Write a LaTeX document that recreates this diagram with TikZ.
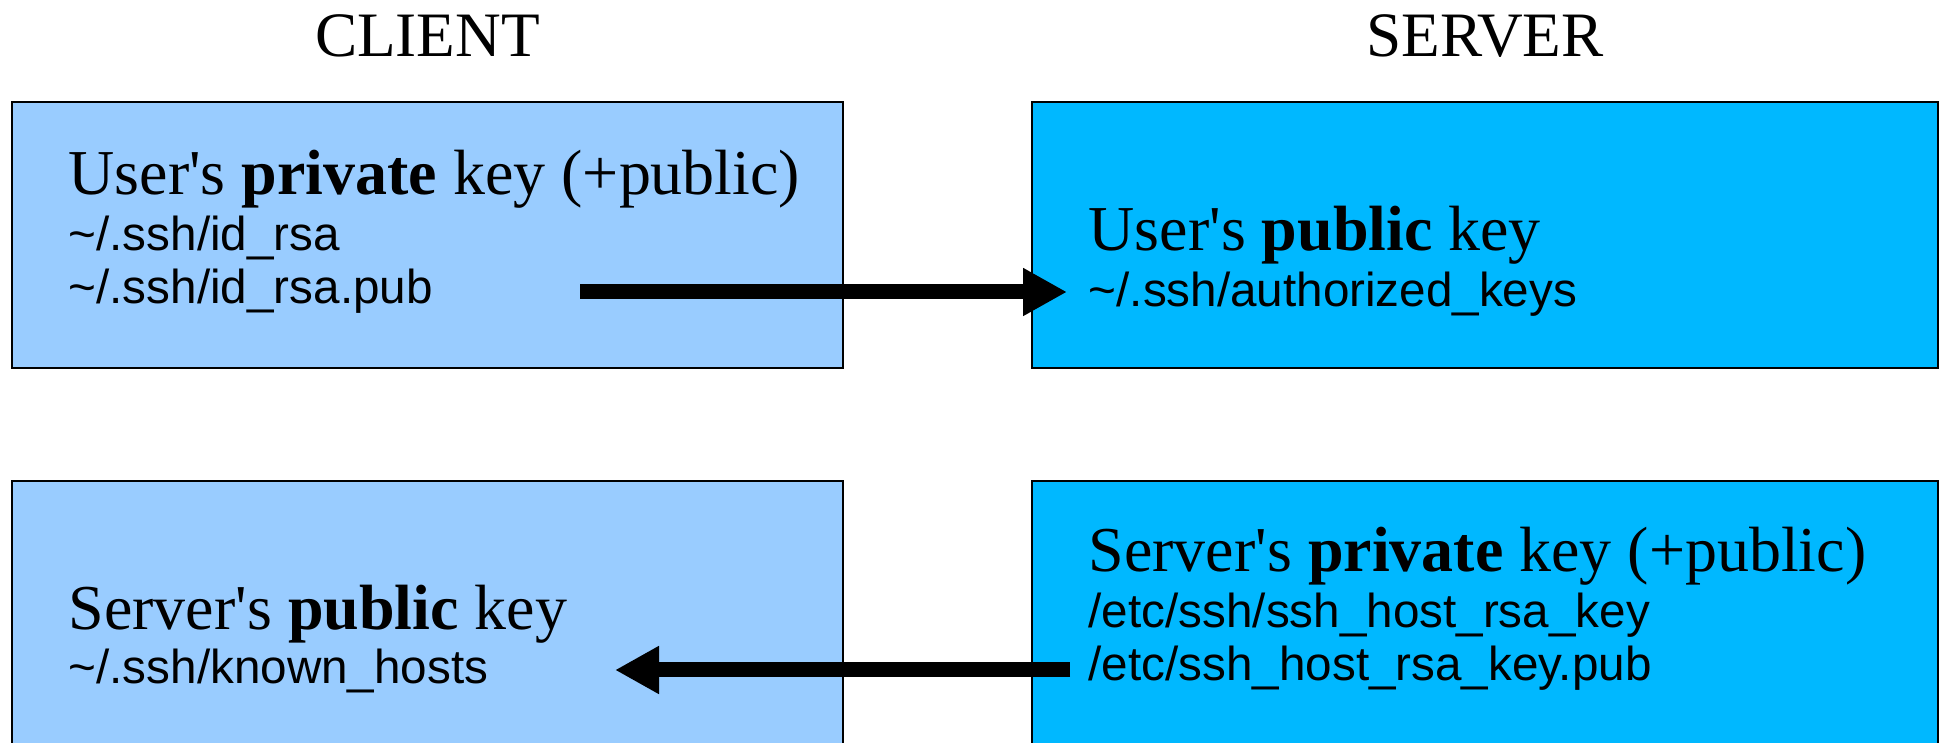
\documentclass[tikz,border=0pt]{standalone}
\usepackage{fontspec}
\setmainfont{Liberation Serif}
\setsansfont{Liberation Sans}
\usetikzlibrary{positioning,arrows.meta}
\definecolor{clientblue}{HTML}{99CCFF}
\definecolor{serverblue}{HTML}{00B8FF}

\begin{document}
\begin{tikzpicture}[
    box/.style = {draw, line width=0.6pt, inner sep=0pt, minimum height=2.66cm},
    clientbox/.style = {box, fill=clientblue, minimum width=8.31cm},
    serverbox/.style = {box, fill=serverblue, minimum width=9.06cm},
    title/.style = {anchor=base, inner sep=0pt, font=\fontsize{18pt}{21pt}\selectfont},
    keyname/.style = {anchor=base west, inner sep=0pt, font=\fontsize{18.2pt}{21pt}\selectfont},
    keyfile/.style = {anchor=base west, inner sep=0pt, font=\sffamily\fontsize{13.55pt}{16pt}\selectfont},
    push/.style = {line width=0.15cm, -{Triangle[length=0.44cm, width=0.45cm]}}]
    \clip (0,0) rectangle (19.46,7.42);
    % titles
    \node[title] (client) at (4.275,6.85) {CLIENT};
    \node[title] (server) at (14.85,6.85) {SERVER};
    % boxes
    \node[clientbox] (cuser) at (4.275,5.07) {};
    \node[serverbox] (suser) at (14.85,5.07) {};
    \node[clientbox, minimum height=3.11cm] (chost) at (4.275,1.055) {};
    \node[serverbox, minimum height=3.11cm] (shost) at (14.85,1.055) {};
    % user key
    \node[keyname] (userpriv) at (0.68,5.47) {User\textquotesingle s \textbf{private} key (+public)};
    \node[keyfile] (idrsa) at ([yshift=-0.56cm]userpriv.base west) {\textasciitilde/.ssh/id\_rsa};
    \node[keyfile] (idrsapub) at ([yshift=-0.53cm]idrsa.base west) {\textasciitilde/.ssh/id\_rsa.pub};
    \node[keyname] (userpub) at (10.88,4.91) {User\textquotesingle s \textbf{public} key};
    \node[keyfile] (authkeys) at ([yshift=-0.56cm]userpub.base west) {\textasciitilde/.ssh/authorized\_keys};
    % host key
    \node[keyname] (hostpub) at (0.68,1.12) {Server\textquotesingle s \textbf{public} key};
    \node[keyfile] (knownhosts) at ([yshift=-0.54cm]hostpub.base west) {\textasciitilde/.ssh/known\_hosts};
    \node[keyname] (hostpriv) at (10.88,1.70) {Server\textquotesingle s \textbf{private} key (+public)};
    \node[keyfile] (hostkey) at ([yshift=-0.56cm]hostpriv.base west) {/etc/ssh/ssh\_host\_rsa\_key};
    \node[keyfile] (hostkeypub) at ([yshift=-0.53cm]hostkey.base west) {/etc/ssh\_host\_rsa\_key.pub};
    % arrows
    \coordinate (pubout) at (5.80,4.50);
    \coordinate (pubin) at (10.67,4.50);
    \coordinate (hostout) at (10.70,0.72);
    \coordinate (hostin) at (6.15,0.72);
    \draw[push] (pubout) -- (pubin);
    \draw[push] (hostout) -- (hostin);
\end{tikzpicture}
\end{document}
